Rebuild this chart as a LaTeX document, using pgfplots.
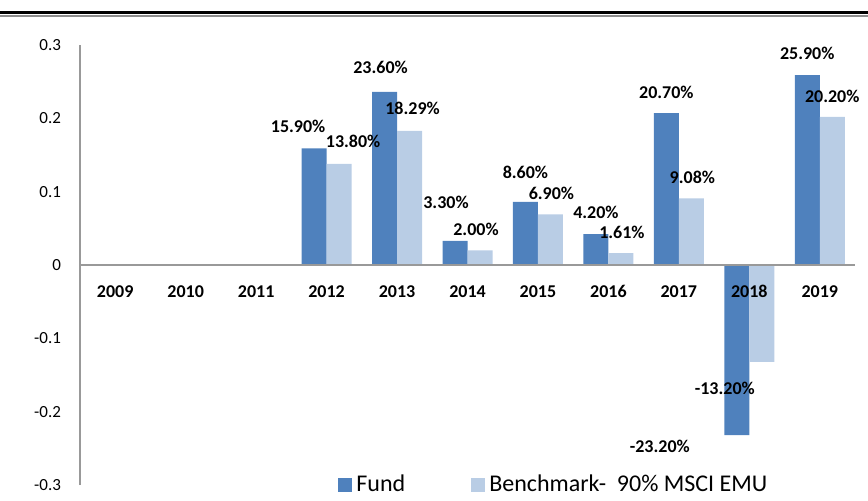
\documentclass[border=0pt]{standalone}
\usepackage{pgfplots}
\usepackage{pgfplotstable}
\pgfplotsset{compat=1.18}
\usepackage{fontspec}
\setmainfont{Carlito}
\definecolor{fundblue}{HTML}{4F81BD}
\definecolor{benchblue}{HTML}{B9CDE5}
\pgfplotsset{/pgfplots/ybar legend/.style={/pgfplots/legend image code/.code={\fill[##1] (0pt,-3.5pt) rectangle (7pt,3.5pt);}}}

\pgfplotstableread{
x y sx sy lab
3 0.159 -8 11 15.90
4 0.236 -2 12.5 23.60
5 0.033 -4.5 19 3.30
6 0.086 0 15 8.60
7 0.042 0 11 4.20
8 0.207 0 10.5 20.70
9 -0.232 -38.5 -5.5 -23.20
10 0.259 0 11 25.90
}\fundtable

\pgfplotstableread{
x y sx sy lab
3 0.138 7 11 13.80
4 0.1829 1.5 11.5 18.29
5 0.020 -2 10.5 2.00
6 0.069 0.5 10.5 6.90
7 0.0161 0.5 10.5 1.61
8 0.0908 0.5 10.5 9.08
9 -0.132 -18.5 -13.5 -13.20
10 0.202 0 10.5 20.20
}\benchtable

\begin{document}
\begin{tikzpicture}
\begin{axis}[
  scale only axis, width=387.5pt, height=220pt,
  ybar=0pt, bar width=12.5pt,
  xmin=-0.5, xmax=10.5, ymin=-0.3, ymax=0.3,
  axis on top,
  axis x line=middle, axis y line=left,
  axis line style={-, draw=black!40, line width=1pt},
  xtick={0,1,2,3,4,5,6,7,8,9,10},
  xticklabels={2009,2010,2011,2012,2013,2014,2015,2016,2017,2018,2019},
  ytick={-0.3,-0.2,-0.1,0,0.1,0.2,0.3},
  yticklabels={-0.3,-0.2,-0.1,0,0.1,0.2,0.3},
  major tick length=0pt,
  xticklabel style={font=\fontsize{9}{11}\selectfont\bfseries, anchor=north, yshift=-6pt, text height=6.5pt, text depth=0pt},
  yticklabel style={font=\fontsize{8.5}{10}\selectfont, xshift=-6pt},
  clip=false,
  legend columns=2,
  legend style={at={(0.333,0.001)}, anchor=west, draw=none, fill=none,
    inner sep=0pt, font=\fontsize{12}{14}\selectfont,
    nodes={inner sep=2pt},
    /tikz/every even column/.append style={column sep=31pt}},
]
\addplot[fill=fundblue, draw=none, point meta=explicit symbolic,
  visualization depends on={\thisrow{sx}\as\sx},
  visualization depends on={\thisrow{sy}\as\sy},
  nodes near coords={\pgfplotspointmeta\%},
  nodes near coords style={font=\fontsize{9}{11}\selectfont\bfseries, anchor=center, xshift=\sx pt, yshift=\sy pt}]
  table[x=x, y=y, meta=lab]{\fundtable};
\addlegendentry{Fund}
\addplot[fill=benchblue, draw=none, point meta=explicit symbolic,
  visualization depends on={\thisrow{sx}\as\sx},
  visualization depends on={\thisrow{sy}\as\sy},
  nodes near coords={\pgfplotspointmeta\%},
  nodes near coords style={font=\fontsize{9}{11}\selectfont\bfseries, anchor=center, xshift=\sx pt, yshift=\sy pt}]
  table[x=x, y=y, meta=lab]{\benchtable};
\addlegendentry{Benchmark-\ \ 90\% MSCI EMU}
\end{axis}
\draw[black, line width=1.5pt] (-40pt,236.2pt) -- (394pt,236.2pt);
\draw[black!45, line width=0.6pt] (-40pt,234.5pt) -- (394pt,234.5pt);
\pgfresetboundingbox
\path (-40pt,-7.5pt) rectangle (394pt,242.5pt);
\end{tikzpicture}
\end{document}
